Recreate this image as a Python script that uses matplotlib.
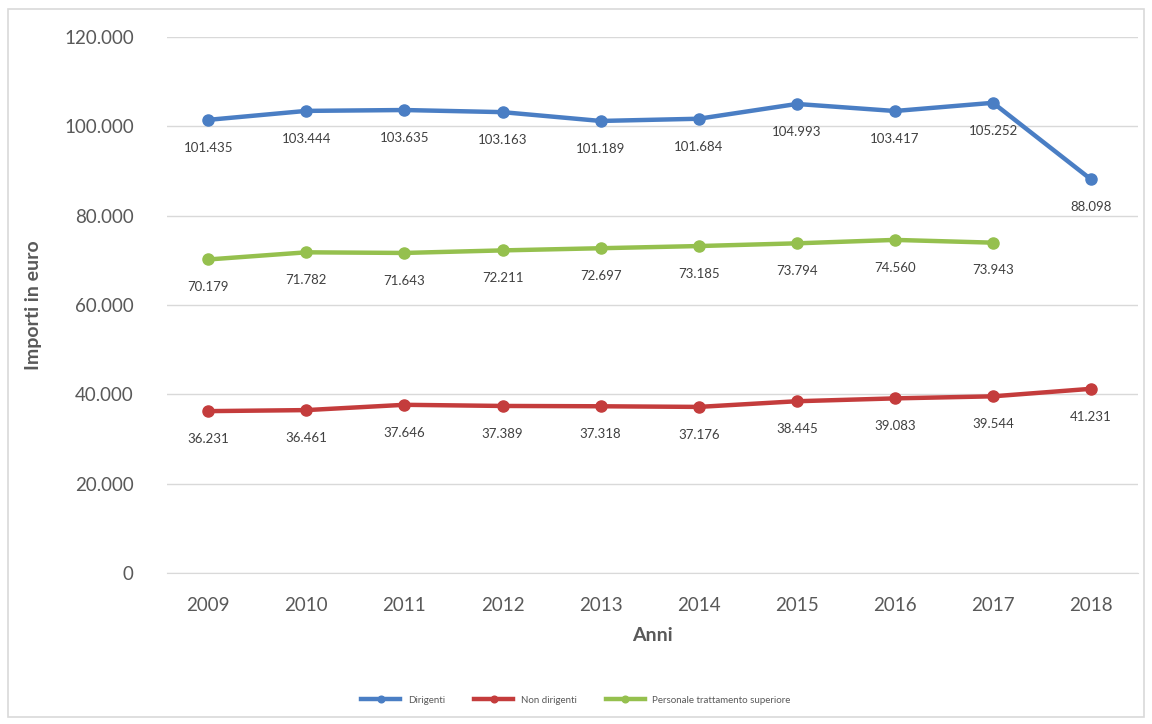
import matplotlib
matplotlib.use("Agg")
import matplotlib.pyplot as plt
from matplotlib.ticker import FuncFormatter
from matplotlib.patches import Rectangle

# dati
anni = ["2009", "2010", "2011", "2012", "2013", "2014", "2015", "2016", "2017", "2018"]
dirigenti = [101435, 103444, 103635, 103163, 101189, 101684, 104993, 103417, 105252, 88098]
non_dirigenti = [36231, 36461, 37646, 37389, 37318, 37176, 38445, 39083, 39544, 41231]
personale_sup = [70179, 71782, 71643, 72211, 72697, 73185, 73794, 74560, 73943]

serie = [
    ("Dirigenti", dirigenti, "#4a7ec4"),
    ("Non dirigenti", non_dirigenti, "#c43c3c"),
    ("Personale trattamento superiore", personale_sup, "#95c04e"),
]

plt.rcParams['font.family'] = ['Lato', 'DejaVu Sans']

def fmt(v):
    return f"{int(v):,}".replace(",", ".")

fig = plt.figure(figsize=(11.52, 7.24), dpi=100)
fig.patches.append(Rectangle((0.007, 0.01), 0.986, 0.978, transform=fig.transFigure,
                             fill=False, edgecolor="#d9d9d9", linewidth=1.2))
ax = fig.add_axes([0.145, 0.2086, 0.843, 0.7404])

x = list(range(len(anni)))
for nome, vals, col in serie:
    xs = x[:len(vals)]
    ax.plot(xs, vals, color=col, linewidth=3.2, marker="o", markersize=8, label=nome)
    for xi, v in zip(xs, vals):
        ax.annotate(fmt(v), (xi, v), xytext=(0, -20), textcoords="offset points",
                    ha="center", va="center", fontsize=9.5, color="#404040")

ax.set_xlim(-0.42, len(anni) - 0.52)
ax.set_ylim(0, 120000)
ax.set_yticks(range(0, 120001, 20000))
ax.yaxis.set_major_formatter(FuncFormatter(lambda v, p: fmt(v)))
ax.set_xticks(x)
ax.set_xticklabels(anni)
ax.grid(axis="y", color="#d9d9d9", linewidth=1)
ax.set_axisbelow(True)
for s in ["top", "right", "left"]:
    ax.spines[s].set_visible(False)
ax.spines["bottom"].set_color("#d9d9d9")
ax.tick_params(axis="both", length=0, labelsize=13.5, colors="#595959", pad=17)
ax.tick_params(axis="y", pad=24)

ax.set_xlabel("Anni", fontsize=14, fontweight="bold", color="#595959", labelpad=10)
ax.set_ylabel("Importi in euro", fontsize=14, fontweight="bold", color="#595959", labelpad=16)

fig.legend(loc="center", bbox_to_anchor=(0.5, 0.033), ncol=3, frameon=False,
           fontsize=7, labelcolor="#595959", handlelength=4, columnspacing=3,
           markerscale=0.6)

fig.savefig("out.png", dpi=100)
